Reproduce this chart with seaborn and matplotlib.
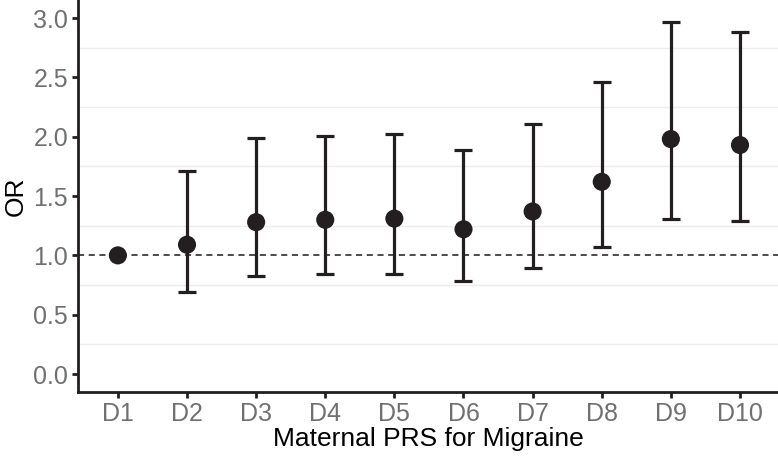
import numpy as np
import pandas as pd
import matplotlib.pyplot as plt
import seaborn as sns
from matplotlib.ticker import FixedLocator

deciles = ['D1', 'D2', 'D3', 'D4', 'D5', 'D6', 'D7', 'D8', 'D9', 'D10']
odds = [1.00, 1.09, 1.28, 1.30, 1.31, 1.22, 1.37, 1.62, 1.98, 1.93]
ci_low = [1.00, 0.69, 0.83, 0.84, 0.84, 0.78, 0.89, 1.07, 1.31, 1.29]
ci_high = [1.00, 1.71, 1.99, 2.01, 2.02, 1.89, 2.11, 2.46, 2.97, 2.88]
y_ticks = [0.0, 0.5, 1.0, 1.5, 2.0, 2.5, 3.0]

df = pd.DataFrame({'decile': deciles, 'OR': odds, 'lo': ci_low, 'hi': ci_high})

sns.set_style('white')
plt.rcParams['font.family'] = ['Liberation Sans', 'DejaVu Sans']

fig, ax = plt.subplots(figsize=(7.78, 4.57), dpi=100)

# points first so the categorical order is D1..D10
sns.scatterplot(data=df, x='decile', y='OR', color='#231f20', s=170, edgecolor='none', zorder=3, ax=ax)

# error bars, skip D1 reference
has_ci = df[df['hi'] > df['lo']]
ax.errorbar(has_ci['decile'], has_ci['OR'],
            yerr=[has_ci['OR'] - has_ci['lo'], has_ci['hi'] - has_ci['OR']],
            fmt='none', ecolor='#231f20', elinewidth=2.3, capsize=6.5, capthick=2.3, zorder=2)

ax.axhline(1.0, color='#1a1a1a', ls=(0, (4, 3)), lw=1.1, zorder=1)

# minor grid only (between labelled ticks)
ax.yaxis.set_minor_locator(FixedLocator([0.25, 0.75, 1.25, 1.75, 2.25, 2.75]))
ax.grid(which='minor', axis='y', color='#EDEDED', lw=1.0)
ax.grid(which='major', visible=False)
ax.set_axisbelow(True)

ax.set_xlim(-0.58, 9.55)
ax.set_ylim(-0.152, 3.152)
ax.yaxis.set_major_locator(FixedLocator(y_ticks))
ax.set_yticklabels([f'{v:.1f}' for v in y_ticks])

ax.set_xlabel('Maternal PRS for Migraine', fontsize=19, color='black', labelpad=1)
ax.set_ylabel('OR', fontsize=19, color='black', labelpad=4)
ax.tick_params(axis='both', which='major', labelsize=18, labelcolor='#707070',
               color='#231f20', length=4, width=2, pad=3, bottom=True, left=True)
ax.tick_params(axis='y', which='minor', length=0)

for side in ['top', 'right']:
    ax.spines[side].set_visible(False)
for side in ['left', 'bottom']:
    ax.spines[side].set_color('#231f20')
    ax.spines[side].set_linewidth(2)

fig.subplots_adjust(left=0.1, right=1.0, top=1.0, bottom=0.142)
fig.savefig('out.png', dpi=100)
